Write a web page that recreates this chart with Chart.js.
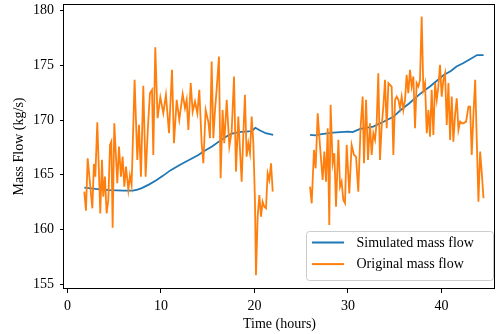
<!DOCTYPE html>
<html>
<head>
<meta charset="utf-8">
<script src="https://cdn.jsdelivr.net/npm/chart.js@4.4.1/dist/chart.umd.min.js"></script>
<style>
  html, body { margin: 0; padding: 0; background: #fff; }
  #wrap { width: 496px; height: 334px; position: relative; }
</style>
</head>
<body>
<div id="wrap"><canvas id="c" width="496" height="334"></canvas></div>
<script>
// ---- Data ----
const simTime1 = [1.8, 3.0, 4.5, 6.0, 7.0, 7.5, 8.0, 8.7, 9.5, 10.2, 11.0, 12.0, 13.0, 14.0, 14.5, 15.5, 16.3, 17.0, 17.5, 18.3, 19.0, 19.7, 20.1, 20.6, 21.2, 22.0];
const simFlow1 = [163.82, 163.7, 163.6, 163.55, 163.55, 163.65, 163.8, 164.1, 164.5, 164.9, 165.4, 165.9, 166.35, 166.8, 167.1, 167.6, 168.1, 168.5, 168.75, 168.9, 168.95, 169.0, 169.3, 169.05, 168.8, 168.65];
const simTime2 = [25.94, 26.5, 27.0, 28.4, 30.0, 30.5, 31.3, 32.7, 33.8, 34.85, 35.6, 36.5, 37.3, 38.0, 38.8, 39.5, 40.2, 41.0, 41.6, 42.3, 43.0, 43.8, 44.5];
const simFlow2 = [168.64, 168.6, 168.7, 168.85, 168.95, 168.9, 169.2, 169.4, 169.85, 170.3, 170.9, 171.5, 172.1, 172.6, 173.1, 173.6, 174.1, 174.5, 174.9, 175.2, 175.55, 175.95, 175.95];

const origTime1 = [1.80,1.98,2.16,2.66,2.83,2.98,3.19,3.51,3.69,3.83,4.01,4.19,4.37,4.55,4.69,4.83,5.01,5.33,5.51,5.72,5.90,6.08,6.26,6.51,6.68,6.86,7.18,7.47,7.65,7.86,8.11,8.36,8.61,8.82,9.04,9.18,9.39,9.64,9.93,10.25,10.53,10.86,11.18,11.39,11.68,11.96,
  12.32,12.57,12.75,12.93,13.18,13.39,13.64,13.89,14.10,14.35,14.53,14.78,15.06,15.24,15.42,15.60,15.78,15.95,16.20,16.38,16.59,16.77,17.03,17.31,17.56,17.81,18.02,18.27,18.45,18.63,18.81,18.98,19.16,19.34,19.52,19.70,19.88,20.05,20.16,20.34,20.52,20.70,20.87,21.05,21.23,21.41,21.59,21.77,21.95];
const origFlow1 = [163.46,161.72,166.51,161.93,165.99,164.83,169.80,161.47,166.36,163.00,164.83,161.47,162.69,167.73,168.03,160.16,169.71,164.22,167.58,164.83,166.66,163.91,165.74,163.61,164.92,164.07,173.68,166.36,169.56,164.83,173.13,164.83,169.41,172.46,172.77,166.81,176.67,170.17,172.09,170.63,172.31,168.80,174.60,167.88,171.85,170.02,
  172.40,171.09,171.85,169.10,173.38,170.78,171.70,170.63,172.77,167.88,166.05,170.93,169.87,168.34,175.36,168.34,170.93,172.77,175.82,164.68,170.93,167.88,171.85,167.58,168.95,173.99,165.29,170.32,167.27,164.37,168.80,172.31,166.66,167.88,166.97,170.32,167.88,162.69,155.82,161.17,163.15,161.17,162.54,162.08,161.93,165.13,164.52,166.05,163.46];
const origTime2 = [25.94,26.12,26.36,26.54,26.76,27.01,27.29,27.47,27.65,27.83,28.00,28.14,28.36,28.54,28.72,28.97,29.15,29.32,29.50,29.68,29.86,30.14,30.39,30.64,30.86,31.10,31.35,31.57,31.71,31.93,32.14,32.35,32.53,32.71,32.89,33.07,33.24,33.42,33.60,33.78,33.96,34.14,34.32,
  34.67,34.85,35.03,35.21,35.39,35.56,35.74,35.92,36.10,36.27,36.45,36.63,36.81,36.99,37.17,37.34,37.52,37.70,37.88,38.06,38.24,38.42,38.60,38.77,38.95,39.13,39.31,39.49,39.66,39.84,40.02,40.20,40.38,40.56,40.74,40.92,41.09,41.27,41.45,41.63,41.81,41.99,42.17,42.34,42.63,42.88,43.06,43.23,43.42,43.60,43.77,43.95,44.13,44.31,44.49];
const origFlow2 = [163.91,162.39,167.27,165.59,170.63,167.58,164.52,167.12,164.37,169.25,160.40,171.39,166.05,166.97,162.08,168.19,163.91,164.37,162.69,162.39,167.73,163.30,167.73,166.81,166.66,163.46,169.41,172.15,166.05,171.85,166.36,169.71,166.81,168.80,168.19,169.86,174.29,166.36,169.41,171.24,173.68,169.25,173.38,
  173.07,166.81,171.85,172.15,171.85,171.09,172.15,170.93,171.85,174.14,172.46,174.60,173.07,173.99,169.25,173.38,173.07,173.68,179.48,172.77,173.38,168.80,170.93,168.49,172.77,168.64,173.38,171.85,173.07,175.05,172.15,173.68,174.29,169.56,173.38,168.19,172.15,168.03,170.48,172.00,169.10,169.86,169.71,169.71,169.86,171.24,171.24,166.81,170.63,173.68,168.19,162.54,167.12,165.13,162.85];

const xTicks = [0, 10, 20, 30, 40];
const yTicks = [155, 160, 165, 170, 175, 180];
const seriesLabels = ['Simulated mass flow', 'Original mass flow'];

// ---- Build point lists (segments separated by a gap) ----
function seg(t, v) {
  const n = Math.min(t.length, v.length);
  const out = [];
  for (let i = 0; i < n; i++) out.push({ x: t[i], y: v[i] });
  return out;
}
function joinSegs(a, b) {
  const gapX = (a[a.length - 1].x + b[0].x) / 2;
  return a.concat([{ x: gapX, y: null }], b);
}
const simData = joinSegs(seg(simTime1, simFlow1), seg(simTime2, simFlow2));
const origData = joinSegs(seg(origTime1, origFlow1), seg(origTime2, origFlow2));

const FONT = 'Liberation Serif, Times New Roman, serif';
const FS = 14;

const framePlugin = {
  id: 'frame',
  afterDatasetsDraw(chart) {
    const { ctx, chartArea: a } = chart;
    ctx.save();
    ctx.strokeStyle = '#000';
    ctx.lineWidth = 1;
    ctx.strokeRect(Math.round(a.left) - 0.5, Math.round(a.top) + 0.5, Math.round(a.right - a.left), Math.round(a.bottom - a.top) - 1);
    ctx.restore();
  }
};

const legendPlugin = {
  id: 'innerLegend',
  afterDraw(chart) {
    const { ctx, chartArea: a } = chart;
    const boxW = 187, boxH = 49;
    const x0 = a.right - 1.5 - boxW, y0 = a.bottom - 8.5 - boxH;
    ctx.save();
    ctx.beginPath();
    if (ctx.roundRect) ctx.roundRect(x0, y0, boxW, boxH, 3); else ctx.rect(x0, y0, boxW, boxH);
    ctx.fillStyle = 'rgba(255,255,255,0.8)';
    ctx.fill();
    ctx.strokeStyle = 'rgba(204,204,204,1)';
    ctx.lineWidth = 1;
    ctx.stroke();
    ctx.font = FS + 'px ' + FONT;
    ctx.textBaseline = 'middle';
    ctx.textAlign = 'left';
    chart.data.datasets.forEach((ds, i) => {
      const yy = y0 + 11 + i * 21.6;
      ctx.strokeStyle = ds.borderColor;
      ctx.lineWidth = 2;
      ctx.beginPath();
      ctx.moveTo(x0 + 5.5, yy);
      ctx.lineTo(x0 + 37.5, yy);
      ctx.stroke();
      ctx.fillStyle = '#000';
      ctx.fillText(ds.label, x0 + 50, yy + 0.5);
    });
    ctx.restore();
  }
};

new Chart(document.getElementById('c'), {
  type: 'line',
  data: {
    datasets: [
      { label: seriesLabels[0], data: simData, borderColor: '#1f77b4', borderWidth: 1.8, pointRadius: 0, tension: 0, spanGaps: false, order: 2 },
      { label: seriesLabels[1], data: origData, borderColor: '#ff7f0e', borderWidth: 1.8, pointRadius: 0, tension: 0, spanGaps: false, order: 1 }
    ]
  },
  options: {
    responsive: false,
    animation: false,
    devicePixelRatio: 1,
    layout: { padding: { top: 4, right: 1, left: 0, bottom: 0 }, autoPadding: false },
    plugins: { legend: { display: false }, tooltip: { enabled: false } },
    scales: {
      x: {
        type: 'linear',
        min: -0.37,
        max: 45.72,
        afterBuildTicks(s) { s.ticks = xTicks.map(v => ({ value: v })); },
        afterFit(s) { s.height = 45; s.paddingLeft = 0; s.paddingRight = 0; s.paddingTop = 0; s.paddingBottom = 0; },
        grid: { drawOnChartArea: false, drawTicks: true, tickLength: 4, color: '#000', lineWidth: 1 },
        border: { display: false },
        ticks: { color: '#000', font: { family: FONT, size: FS }, padding: 5, maxRotation: 0 },
        title: { display: true, text: 'Time (hours)', color: '#000', font: { family: FONT, size: FS }, padding: { top: 0, bottom: 1 } }
      },
      y: {
        type: 'linear',
        min: 154.55,
        max: 180.62,
        afterBuildTicks(s) { s.ticks = yTicks.map(v => ({ value: v })); },
        afterFit(s) { s.width = 64; s.paddingTop = 0; s.paddingBottom = 0; s.paddingLeft = 0; s.paddingRight = 0; },
        grid: { drawOnChartArea: false, drawTicks: true, tickLength: 4, color: '#000', lineWidth: 1 },
        border: { display: false },
        ticks: { color: '#000', font: { family: FONT, size: FS }, padding: 6 },
        title: { display: true, text: 'Mass Flow (kg/s)', color: '#000', font: { family: FONT, size: FS }, padding: { top: 11, bottom: 0 } }
      }
    }
  },
  plugins: [framePlugin, legendPlugin]
});
</script>
</body>
</html>
